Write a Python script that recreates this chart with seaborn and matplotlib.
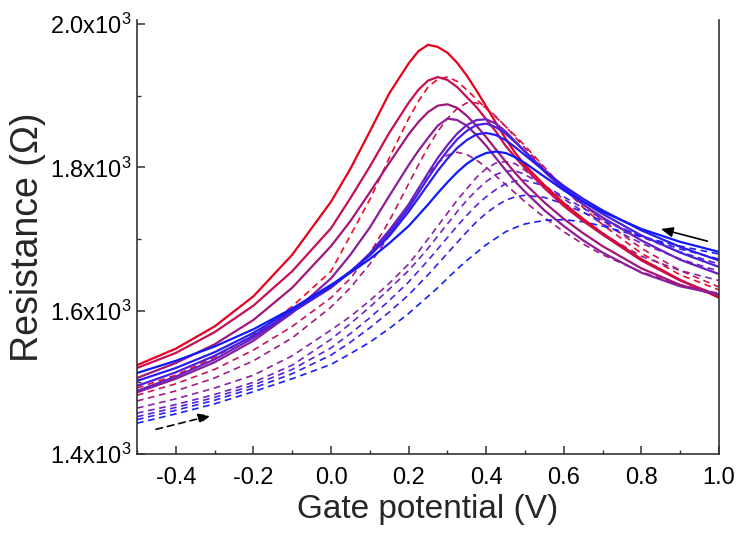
import numpy as np
import pandas as pd
import matplotlib
matplotlib.use("Agg")
import matplotlib.pyplot as plt
from matplotlib.ticker import MultipleLocator, FuncFormatter
import seaborn as sns

# ---------------- data ----------------
gate_v = [-0.5, -0.4, -0.3, -0.2, -0.1, 0.0, 0.05, 0.1, 0.15, 0.2, 0.225, 0.25, 0.275,
          0.3, 0.325, 0.35, 0.375, 0.4, 0.425, 0.45, 0.475, 0.5, 0.55, 0.6, 0.65,
          0.7, 0.8, 0.9, 1.0]

# backward sweeps (solid), red -> blue
solid_1 = [1524, 1547, 1578, 1620, 1678, 1752, 1798, 1850, 1903, 1945, 1962, 1971, 1968, 1960, 1946, 1928, 1907, 1885, 1862, 1840, 1820, 1803, 1775, 1750, 1728, 1708, 1672, 1643, 1618]
solid_2 = [1520, 1541, 1570, 1607, 1655, 1715, 1757, 1801, 1848, 1890, 1908, 1921, 1926, 1922, 1912, 1898, 1884, 1867, 1850, 1830, 1814, 1799, 1771, 1746, 1725, 1706, 1670, 1642, 1621]
solid_3 = [1506, 1527, 1553, 1587, 1632, 1690, 1725, 1765, 1806, 1846, 1863, 1877, 1886, 1888, 1883, 1872, 1858, 1842, 1825, 1808, 1792, 1777, 1751, 1728, 1708, 1690, 1659, 1636, 1621]
solid_4 = [1486, 1505, 1528, 1558, 1597, 1645, 1678, 1716, 1760, 1803, 1823, 1841, 1858, 1868, 1866, 1858, 1845, 1830, 1813, 1796, 1780, 1766, 1740, 1718, 1698, 1681, 1653, 1634, 1623]
solid_5 = [1488, 1508, 1532, 1562, 1598, 1632, 1654, 1680, 1712, 1748, 1770, 1792, 1813, 1831, 1847, 1859, 1866, 1867, 1861, 1850, 1836, 1822, 1794, 1769, 1748, 1730, 1698, 1671, 1651]
solid_6 = [1495, 1514, 1537, 1565, 1598, 1633, 1654, 1678, 1708, 1743, 1764, 1785, 1805, 1823, 1839, 1851, 1859, 1861, 1856, 1847, 1835, 1822, 1796, 1772, 1752, 1735, 1705, 1681, 1661]
solid_7 = [1502, 1520, 1542, 1569, 1601, 1635, 1655, 1677, 1704, 1738, 1757, 1776, 1795, 1812, 1827, 1838, 1846, 1848, 1845, 1838, 1828, 1817, 1795, 1774, 1756, 1740, 1712, 1689, 1670]
solid_8 = [1513, 1530, 1550, 1574, 1603, 1636, 1653, 1672, 1694, 1718, 1733, 1748, 1764, 1779, 1793, 1805, 1814, 1820, 1822, 1820, 1814, 1806, 1787, 1768, 1752, 1738, 1714, 1696, 1682]

# forward sweeps (dashed), red -> blue
dash_1 = [1492, 1510, 1535, 1566, 1606, 1655, 1705, 1755, 1813, 1868, 1892, 1912, 1923, 1926, 1920, 1908, 1895, 1882, 1870, 1857, 1844, 1830, 1800, 1771, 1744, 1720, 1680, 1650, 1629]
dash_2 = [1482, 1498, 1518, 1545, 1578, 1618, 1645, 1680, 1725, 1777, 1803, 1828, 1850, 1868, 1882, 1890, 1890, 1883, 1871, 1857, 1842, 1827, 1798, 1772, 1748, 1726, 1687, 1656, 1633]
dash_3 = [1474, 1488, 1506, 1530, 1562, 1605, 1632, 1665, 1705, 1748, 1770, 1790, 1806, 1817, 1821, 1818, 1810, 1800, 1788, 1776, 1764, 1752, 1730, 1710, 1693, 1678, 1654, 1636, 1624]
dash_4 = [1464, 1477, 1492, 1510, 1537, 1573, 1592, 1614, 1638, 1665, 1682, 1700, 1718, 1736, 1754, 1770, 1786, 1798, 1806, 1808, 1805, 1796, 1773, 1749, 1727, 1707, 1676, 1656, 1642]
dash_5 = [1457, 1469, 1483, 1500, 1524, 1560, 1582, 1605, 1630, 1656, 1671, 1687, 1704, 1721, 1738, 1754, 1768, 1780, 1790, 1795, 1795, 1790, 1774, 1756, 1738, 1721, 1694, 1672, 1655]
dash_6 = [1452, 1465, 1479, 1496, 1518, 1548, 1568, 1590, 1614, 1640, 1655, 1670, 1686, 1702, 1718, 1733, 1747, 1759, 1769, 1777, 1781, 1782, 1774, 1759, 1743, 1728, 1703, 1682, 1665]
dash_7 = [1448, 1461, 1475, 1492, 1512, 1538, 1556, 1576, 1598, 1622, 1636, 1650, 1665, 1680, 1695, 1710, 1724, 1736, 1746, 1754, 1759, 1761, 1758, 1749, 1737, 1725, 1704, 1686, 1672]
dash_8 = [1443, 1456, 1470, 1487, 1505, 1525, 1540, 1556, 1575, 1596, 1608, 1620, 1632, 1645, 1658, 1670, 1681, 1692, 1701, 1710, 1716, 1721, 1726, 1727, 1724, 1718, 1703, 1690, 1679]

solid_series = [solid_1, solid_2, solid_3, solid_4, solid_5, solid_6, solid_7, solid_8]
dashed_series = [dash_1, dash_2, dash_3, dash_4, dash_5, dash_6, dash_7, dash_8]

x_ticks = [-0.4, -0.2, 0.0, 0.2, 0.4, 0.6, 0.8, 1.0]
y_ticks = [1400, 1600, 1800, 2000]

# ---------------- style ----------------
sns.set_theme(style="white")
plt.rcParams["font.family"] = ["Liberation Sans", "DejaVu Sans"]
plt.rcParams["mathtext.fontset"] = "custom"
plt.rcParams["mathtext.rm"] = "Liberation Sans"
plt.rcParams["mathtext.it"] = "Liberation Sans:italic"

solid_colors = ["#E8001C", "#C80F52", "#A11779", "#8A1E9C", "#6A20C2", "#4A20DE", "#2A1CF0", "#0F1AFA"]
dashed_colors = ["#EE0A22", "#C81458", "#A01C86", "#8A22A4", "#6E22C6", "#5222DE", "#3020EE", "#1420F8"]

fig = plt.figure(figsize=(7.39, 5.36), dpi=100)
ax = fig.add_axes([137 / 739, 1 - 454 / 536, (719 - 137) / 739, (454 - 20) / 536])

for ys, c in zip(dashed_series, dashed_colors):
    sns.lineplot(x=gate_v, y=ys, ax=ax, color=c, lw=1.2,
                 linestyle=(0, (4, 2.8)), legend=False)
for ys, c in zip(solid_series, solid_colors):
    sns.lineplot(x=gate_v, y=ys, ax=ax, color=c, lw=1.6, legend=False)

ax.set_xlim(-0.5, 1.0)
ax.set_ylim(1400, 2000 + 4 * 600 / 430)
ax.set_xticks(x_ticks)
ax.set_yticks(y_ticks)
ax.xaxis.set_minor_locator(MultipleLocator(0.1))
ax.yaxis.set_minor_locator(MultipleLocator(100))
ax.xaxis.set_major_formatter(FuncFormatter(lambda v, p: f"{v:.1f}"))
ax.yaxis.set_major_formatter(FuncFormatter(lambda v, p: f"{v/1000:.1f}x10$^3$"))
ax.tick_params(axis="both", which="major", direction="in", length=6, width=1.1,
               labelsize=17, color="#333333", labelcolor="black")
ax.tick_params(axis="both", which="minor", direction="in", length=3, width=1.0,
               color="#333333")
ax.tick_params(axis="x", which="both", bottom=True, top=False, pad=9)
ax.tick_params(axis="y", which="both", left=True, right=False, pad=4)

for s in ["left", "bottom", "right"]:
    ax.spines[s].set_color("#333333")
    ax.spines[s].set_linewidth(1.2)
ax.spines["top"].set_visible(False)

ax.set_xlabel("Gate potential (V)", fontsize=24, labelpad=4)
ax.set_ylabel("Resistance (\u03a9)", fontsize=27, labelpad=3)

# sweep-direction arrows
ax.annotate("", xy=(0.843, 1715), xytext=(0.977, 1696),
            arrowprops=dict(arrowstyle="-|>,head_length=0.6,head_width=0.25",
                            color="black", lw=1.2))
ax.annotate("", xy=(-0.303, 1454.5), xytext=(-0.458, 1433.5),
            arrowprops=dict(arrowstyle="-|>,head_length=0.6,head_width=0.25",
                            color="black", lw=1.2, linestyle=(0, (4, 3))))

fig.savefig("out.png", dpi=100)
